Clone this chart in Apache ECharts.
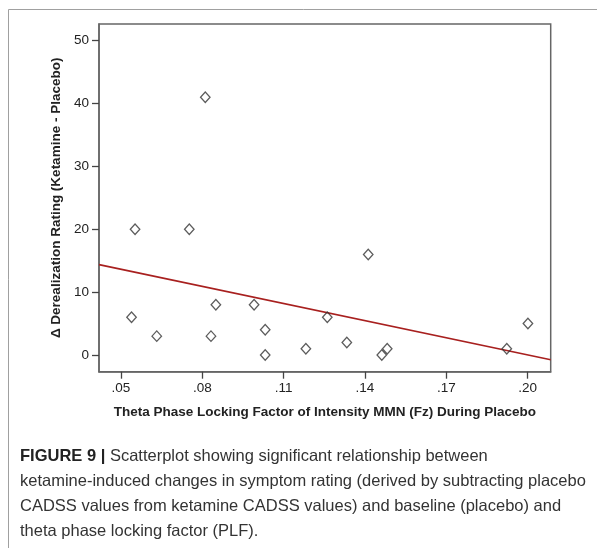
<!DOCTYPE html>
<html>
<head>
<meta charset="utf-8">
<title>Figure 9 scatterplot</title>
<script src="https://cdn.jsdelivr.net/npm/echarts@6/dist/echarts.min.js"></script>
<style>
  html, body { margin: 0; padding: 0; background: #fff; }
  #chart { width: 597px; height: 548px; }
</style>
</head>
<body>
<div id="chart"></div>
<script>
// Theta PLF (placebo) per subject
const plfValues = [0.0539, 0.0552, 0.0632, 0.0752, 0.0811, 0.0832, 0.0850, 0.0991, 0.1032,
                   0.1032, 0.1182, 0.1261, 0.1333, 0.1412, 0.1462, 0.1482, 0.1923, 0.2001];
// Change in CADSS derealization score (ketamine - placebo)
const derealValues = [6, 20, 3, 20, 41, 3, 8, 8, 4,
                      0, 1, 6, 2, 16, 0, 1, 1, 5];

const xTicks = [0.05, 0.08, 0.11, 0.14, 0.17, 0.20];
const yTicks = [0, 10, 20, 30, 40, 50];

const xRange = [0.0419, 0.2085];
const yRange = [-2.66, 52.66];

const FONT = "'Liberation Sans', Arial, sans-serif";

// Ordinary least-squares fit of the points
function linearFit(xs, ys) {
  const n = xs.length;
  const mx = xs.reduce((a, b) => a + b, 0) / n;
  const my = ys.reduce((a, b) => a + b, 0) / n;
  let sxy = 0, sxx = 0;
  for (let i = 0; i < n; i++) {
    sxy += (xs[i] - mx) * (ys[i] - my);
    sxx += (xs[i] - mx) * (xs[i] - mx);
  }
  const slope = sxy / sxx;
  return { slope, intercept: my - slope * mx };
}
const fit = linearFit(plfValues, derealValues);
const fitLine = xRange.map(x => [x, fit.intercept + fit.slope * x]);

const points = plfValues.map((x, i) => [x, derealValues[i]]);

const chart = echarts.init(document.getElementById('chart'), null, { renderer: 'canvas' });
chart.setOption({
  animation: false,
  backgroundColor: '#fff',
  textStyle: { fontFamily: FONT },
  grid: {
    left: 99, right: 46.3, top: 24, bottom: 176.3,
    show: true, borderColor: '#666', borderWidth: 1.5, backgroundColor: '#fff'
  },
  xAxis: {
    type: 'value', min: xRange[0], max: xRange[1],
    name: 'Theta Phase Locking Factor of Intensity MMN (Fz) During Placebo',
    nameLocation: 'middle', nameGap: 34,
    nameTextStyle: { fontFamily: FONT, fontSize: 13.5, fontWeight: 'bold', color: '#222' },
    axisLine: { show: true, onZero: false, lineStyle: { color: '#666', width: 1.5 } },
    axisTick: { show: true, inside: false, length: 7, customValues: xTicks,
                lineStyle: { color: '#444', width: 1.3 } },
    axisLabel: { customValues: xTicks, margin: 10, fontSize: 13.5, color: '#222', fontFamily: FONT,
                 formatter: v => v.toFixed(2).replace(/^0/, '') },
    splitLine: { show: false }
  },
  yAxis: {
    type: 'value', min: yRange[0], max: yRange[1],
    name: 'Δ Derealization Rating (Ketamine - Placebo)',
    nameLocation: 'middle', nameGap: 27,
    nameTextStyle: { fontFamily: FONT, fontSize: 13.5, fontWeight: 'bold', color: '#222' },
    axisLine: { show: true, onZero: false, lineStyle: { color: '#666', width: 1.5 } },
    axisTick: { show: true, inside: false, length: 7, customValues: yTicks,
                lineStyle: { color: '#444', width: 1.3 } },
    axisLabel: { customValues: yTicks, margin: 10, fontSize: 13.5, color: '#222', fontFamily: FONT },
    splitLine: { show: false }
  },
  series: [
    {
      type: 'line',
      data: fitLine,
      showSymbol: false,
      symbol: 'none',
      lineStyle: { color: '#a8201f', width: 1.6 },
      z: 2,
      silent: true
    },
    {
      type: 'scatter',
      data: points,
      symbol: 'diamond',
      symbolSize: [9.5, 10.5],
      itemStyle: { color: 'rgba(255,255,255,0)', borderColor: '#333', borderWidth: 1.3 },
      z: 3
    }
  ],
  graphic: [
    {
      type: 'rect', silent: true, z: -1,
      shape: { x: 8.5, y: 9.5, width: 700, height: 700 },
      style: { fill: 'none', stroke: '#a0a0a0', lineWidth: 1 }
    },
    {
      type: 'text', left: 20, top: 444, silent: true,
      style: {
        text: '{b|FIGURE 9 |} Scatterplot showing significant relationship between\n' +
              'ketamine-induced changes in symptom rating (derived by subtracting placebo\n' +
              'CADSS values from ketamine CADSS values) and baseline (placebo) and\n' +
              'theta phase locking factor (PLF).',
        fontFamily: FONT, fontSize: 16.5, lineHeight: 25, fill: '#333',
        rich: {
          b: { fontFamily: FONT, fontSize: 16.5, fontWeight: 'bold', fill: '#222', lineHeight: 25 }
        }
      }
    }
  ]
});
</script>
</body>
</html>
